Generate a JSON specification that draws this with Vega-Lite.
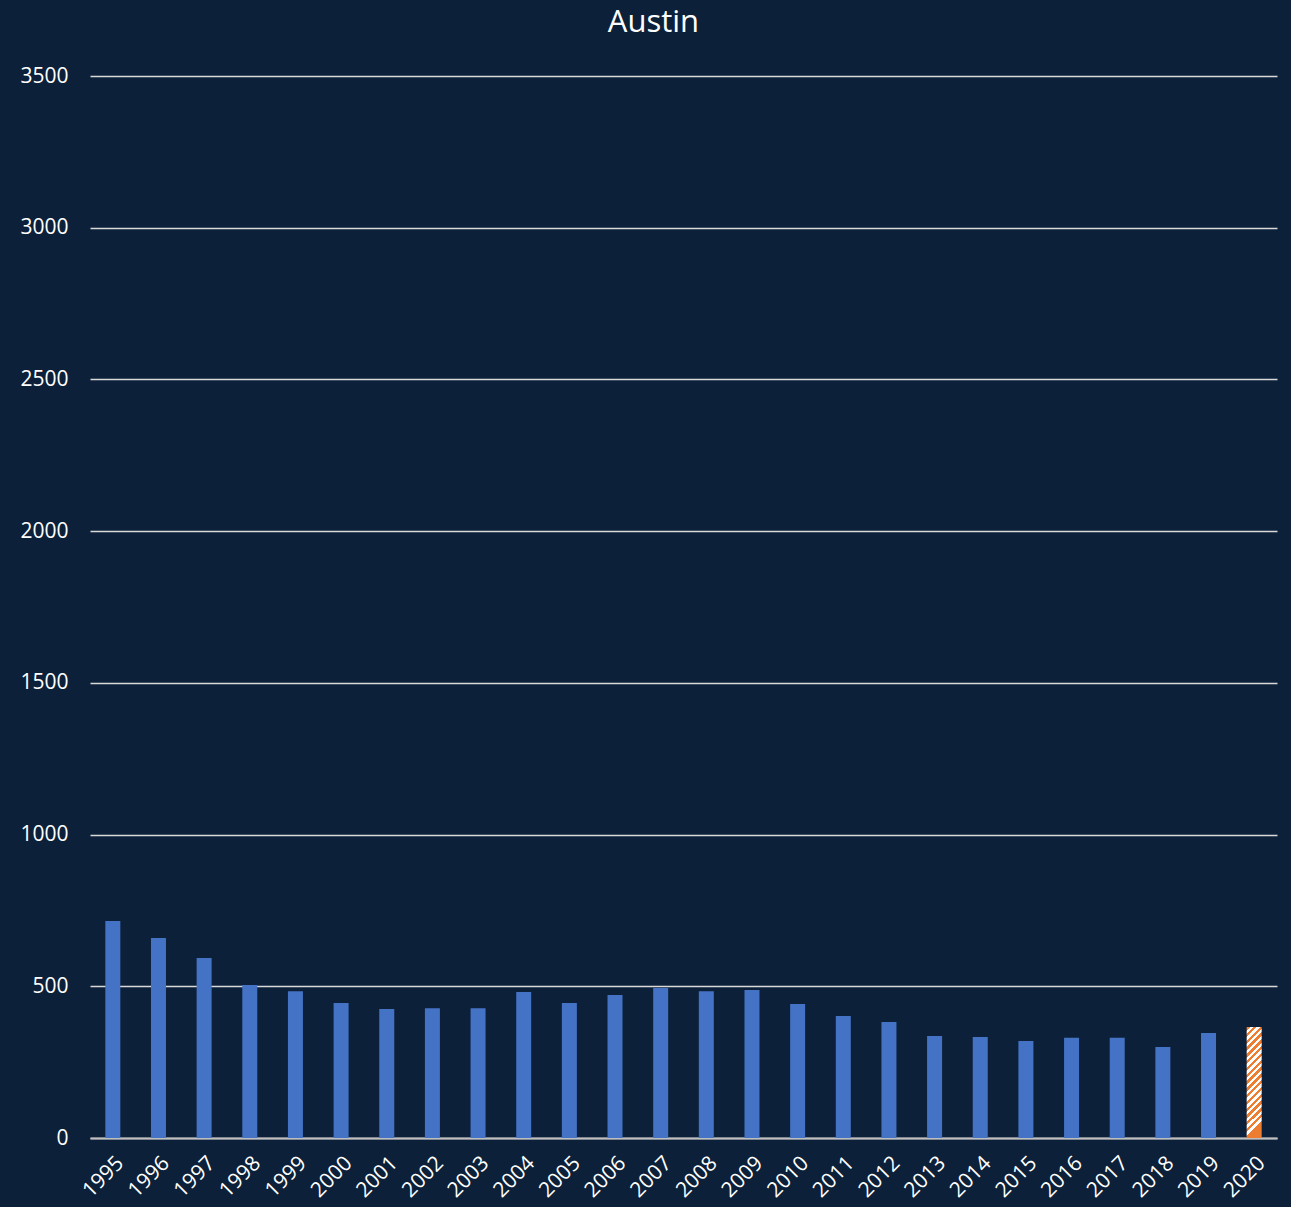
{
  "$schema": "https://vega.github.io/schema/vega-lite/v6.json",
  "autosize": {"type": "none"},
  "width": 1187,
  "height": 1062,
  "padding": {"left": 90, "top": 76, "right": 14, "bottom": 69},
  "background": "#0C2039",
  "title": {"text": "Austin", "color": "#FFFFFF", "font": "Open Sans", "fontSize": 31, "fontWeight": "normal", "anchor": "middle", "dx": -30, "offset": 26},
  "data": {"values": [
    {"year": "1995", "value": 715, "kind": "actual"},
    {"year": "1996", "value": 659, "kind": "actual"},
    {"year": "1997", "value": 593, "kind": "actual"},
    {"year": "1998", "value": 504, "kind": "actual"},
    {"year": "1999", "value": 484, "kind": "actual"},
    {"year": "2000", "value": 445, "kind": "actual"},
    {"year": "2001", "value": 425, "kind": "actual"},
    {"year": "2002", "value": 428, "kind": "actual"},
    {"year": "2003", "value": 428, "kind": "actual"},
    {"year": "2004", "value": 481, "kind": "actual"},
    {"year": "2005", "value": 445, "kind": "actual"},
    {"year": "2006", "value": 471, "kind": "actual"},
    {"year": "2007", "value": 494, "kind": "actual"},
    {"year": "2008", "value": 484, "kind": "actual"},
    {"year": "2009", "value": 488, "kind": "actual"},
    {"year": "2010", "value": 442, "kind": "actual"},
    {"year": "2011", "value": 402, "kind": "actual"},
    {"year": "2012", "value": 382, "kind": "actual"},
    {"year": "2013", "value": 336, "kind": "actual"},
    {"year": "2014", "value": 333, "kind": "actual"},
    {"year": "2015", "value": 320, "kind": "actual"},
    {"year": "2016", "value": 330, "kind": "actual"},
    {"year": "2017", "value": 330, "kind": "actual"},
    {"year": "2018", "value": 300, "kind": "actual"},
    {"year": "2019", "value": 346, "kind": "actual"},
    {"year": "2020", "value": 366, "kind": "projected"}
  ]},
  "encoding": {
    "x": {"field": "year", "type": "ordinal", "scale": {"paddingInner": 0, "paddingOuter": 0},
      "axis": {"title": null, "labelAngle": -45, "labelColor": "#FFFFFF", "labelFont": "Open Sans", "labelFontSize": 21, "ticks": false, "domainColor": "#BFBFBF", "domainWidth": 2, "labelPadding": 14}},
    "y": {"field": "value", "type": "quantitative", "scale": {"domain": [0, 3500], "nice": false},
      "axis": {"title": null, "values": [0, 500, 1000, 1500, 2000, 2500, 3000, 3500], "format": "d", "labelColor": "#FFFFFF", "labelFont": "Open Sans", "labelFontSize": 21, "ticks": false, "domain": false, "gridColor": "#D9D9D9", "gridWidth": 1.5, "gridOpacity": 1, "labelPadding": 22}}
  },
  "layer": [
    {"transform": [{"filter": "datum.kind == 'actual'"}], "mark": {"type": "bar", "size": 15, "color": "#4472C4"}},
    {"transform": [{"filter": "datum.kind == 'projected'"}], "mark": {"type": "bar", "size": 15, "fill": {"gradient": "linear", "x1": 0, "y1": 0, "x2": 0.135, "y2": 1, "stops": [
      {"offset": 0, "color": "#ED7D31"}, {"offset": 0.03, "color": "#ED7D31"}, {"offset": 0.03, "color": "#FFFFFF"}, {"offset": 0.06, "color": "#FFFFFF"},
      {"offset": 0.06, "color": "#ED7D31"}, {"offset": 0.09, "color": "#ED7D31"}, {"offset": 0.09, "color": "#FFFFFF"}, {"offset": 0.12, "color": "#FFFFFF"},
      {"offset": 0.12, "color": "#ED7D31"}, {"offset": 0.15, "color": "#ED7D31"}, {"offset": 0.15, "color": "#FFFFFF"}, {"offset": 0.18, "color": "#FFFFFF"},
      {"offset": 0.18, "color": "#ED7D31"}, {"offset": 0.21, "color": "#ED7D31"}, {"offset": 0.21, "color": "#FFFFFF"}, {"offset": 0.24, "color": "#FFFFFF"},
      {"offset": 0.24, "color": "#ED7D31"}, {"offset": 0.27, "color": "#ED7D31"}, {"offset": 0.27, "color": "#FFFFFF"}, {"offset": 0.30, "color": "#FFFFFF"},
      {"offset": 0.30, "color": "#ED7D31"}, {"offset": 0.33, "color": "#ED7D31"}, {"offset": 0.33, "color": "#FFFFFF"}, {"offset": 0.36, "color": "#FFFFFF"},
      {"offset": 0.36, "color": "#ED7D31"}, {"offset": 0.39, "color": "#ED7D31"}, {"offset": 0.39, "color": "#FFFFFF"}, {"offset": 0.42, "color": "#FFFFFF"},
      {"offset": 0.42, "color": "#ED7D31"}, {"offset": 0.45, "color": "#ED7D31"}, {"offset": 0.45, "color": "#FFFFFF"}, {"offset": 0.48, "color": "#FFFFFF"},
      {"offset": 0.48, "color": "#ED7D31"}, {"offset": 0.51, "color": "#ED7D31"}, {"offset": 0.51, "color": "#FFFFFF"}, {"offset": 0.54, "color": "#FFFFFF"},
      {"offset": 0.54, "color": "#ED7D31"}, {"offset": 0.57, "color": "#ED7D31"}, {"offset": 0.57, "color": "#FFFFFF"}, {"offset": 0.60, "color": "#FFFFFF"},
      {"offset": 0.60, "color": "#ED7D31"}, {"offset": 0.63, "color": "#ED7D31"}, {"offset": 0.63, "color": "#FFFFFF"}, {"offset": 0.66, "color": "#FFFFFF"},
      {"offset": 0.66, "color": "#ED7D31"}, {"offset": 0.69, "color": "#ED7D31"}, {"offset": 0.69, "color": "#FFFFFF"}, {"offset": 0.72, "color": "#FFFFFF"},
      {"offset": 0.72, "color": "#ED7D31"}, {"offset": 0.75, "color": "#ED7D31"}, {"offset": 0.75, "color": "#FFFFFF"}, {"offset": 0.78, "color": "#FFFFFF"},
      {"offset": 0.78, "color": "#ED7D31"}, {"offset": 0.81, "color": "#ED7D31"}, {"offset": 0.81, "color": "#FFFFFF"}, {"offset": 0.84, "color": "#FFFFFF"},
      {"offset": 0.84, "color": "#ED7D31"}, {"offset": 0.87, "color": "#ED7D31"}, {"offset": 0.87, "color": "#FFFFFF"}, {"offset": 0.90, "color": "#FFFFFF"},
      {"offset": 0.90, "color": "#ED7D31"}, {"offset": 0.93, "color": "#ED7D31"}, {"offset": 0.93, "color": "#FFFFFF"}, {"offset": 0.96, "color": "#FFFFFF"},
      {"offset": 0.96, "color": "#ED7D31"}, {"offset": 1, "color": "#ED7D31"}
    ]}}}
  ],
  "config": {"view": {"stroke": null}}
}
